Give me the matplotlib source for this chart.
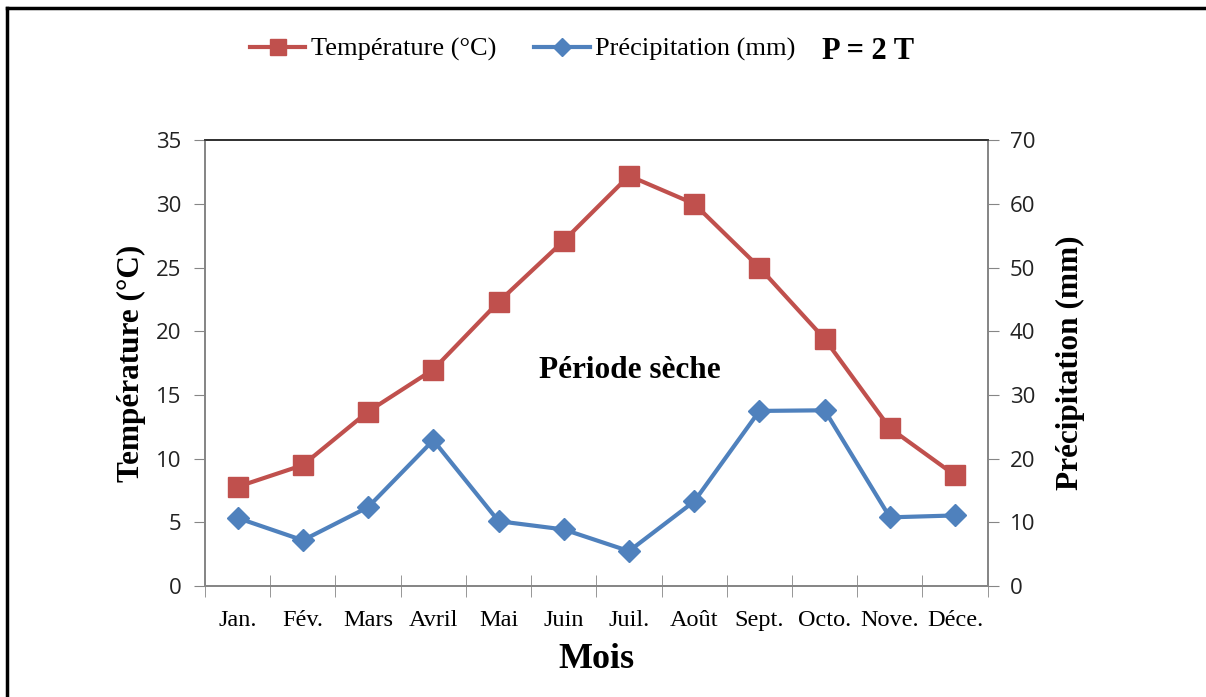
import numpy as np
import matplotlib.pyplot as plt
from matplotlib.lines import Line2D

mois = ['Jan.', 'Fév.', 'Mars', 'Avril', 'Mai', 'Juin', 'Juil.', 'Août',
        'Sept.', 'Octo.', 'Nove.', 'Déce.']
temperature = [7.8, 9.5, 13.7, 17.0, 22.3, 27.1, 32.2, 30.0, 25.0, 19.4, 12.4, 8.7]
precipitation = [10.7, 7.2, 12.4, 22.9, 10.2, 8.9, 5.5, 13.3, 27.5, 27.6, 10.8, 11.1]

rouge = '#C0504D'
bleu = '#4F81BD'
gris = '#868686'
serif = 'Liberation Serif'
sans = 'Open Sans'

fig = plt.figure(figsize=(12.06, 6.97), dpi=100)
ax = fig.add_axes([0.170, 0.159, 0.649, 0.640])
ax2 = ax.twinx()

x = np.arange(len(mois))
l1, = ax.plot(x, temperature, color=rouge, lw=3, marker='s', ms=14,
              label='Température (°C)', zorder=3)
l2, = ax2.plot(x, precipitation, color=bleu, lw=3, marker='D', ms=11,
               label='Précipitation (mm)', zorder=3)

ax.set_xlim(-0.5, 11.5)
ax.set_ylim(0, 35)
ax2.set_ylim(0, 70)
ax.set_yticks(range(0, 36, 5))
ax2.set_yticks(range(0, 71, 10))

ax.set_xticks(x)
ax.set_xticklabels(mois, fontfamily=serif, fontsize=17.5)
ax.set_xticks(np.arange(-0.5, 12, 1), minor=True)
ax.tick_params(axis='x', which='major', length=0, pad=17)
ax.tick_params(axis='x', which='minor', direction='inout', length=16, color=gris)
ax.tick_params(axis='y', direction='out', length=8, color=gris, labelsize=16, pad=9)
ax2.tick_params(axis='y', direction='out', length=8, color=gris, labelsize=16, pad=8)
for lab in ax.get_yticklabels() + ax2.get_yticklabels():
    lab.set_fontfamily(sans)
    lab.set_color('#222222')

for a in (ax, ax2):
    for s in ['left', 'right', 'bottom']:
        a.spines[s].set_color(gris)
        a.spines[s].set_linewidth(1.3)
    a.spines['top'].set_color('#333333')
    a.spines['top'].set_linewidth(1.3)

ax.set_xlabel('Mois', fontfamily=serif, fontsize=26, fontweight='bold', labelpad=9)
ax.set_ylabel('Température (°C)', fontfamily=serif, fontsize=22.5, fontweight='bold', labelpad=7)
ax2.set_ylabel('Précipitation (mm)', fontfamily=serif, fontsize=22.5, fontweight='bold', labelpad=15)

ax.text(6.02, 16.95, 'Période sèche', fontfamily=serif, fontsize=22.5,
        fontweight='bold', ha='center', va='center')

fig.legend(handles=[l1, l2], loc='center left', bbox_to_anchor=(0.1985, 0.929),
           ncol=2, frameon=False, prop={'family': serif, 'size': 19},
           handlelength=2.1, handletextpad=0.2, columnspacing=1.45, markerscale=0.85,
           borderaxespad=0)
fig.text(0.6816, 0.926, 'P = 2 T', fontfamily=serif, fontsize=22,
         fontweight='bold', ha='left', va='center')

# cadre partiel (haut et gauche)
fig.add_artist(Line2D([0.006, 1.0], [0.989, 0.989], color='black', lw=2.5,
                      transform=fig.transFigure))
fig.add_artist(Line2D([0.006, 0.006], [0.0, 0.989], color='black', lw=2.5,
                      transform=fig.transFigure))

fig.savefig('out.png', dpi=100)
